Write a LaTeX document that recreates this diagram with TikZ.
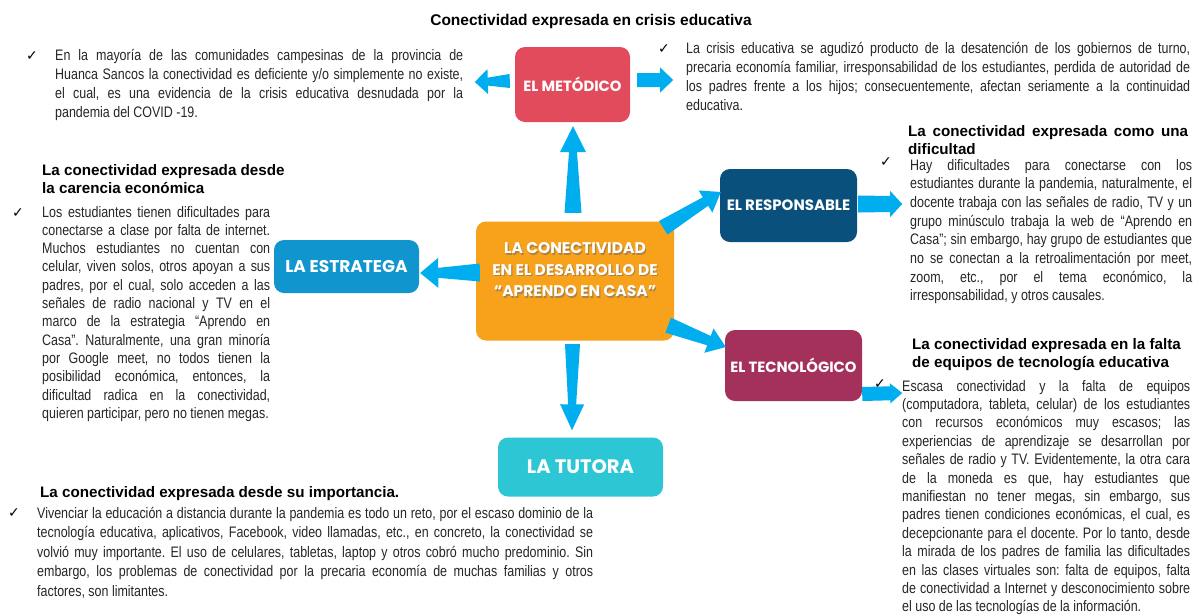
\documentclass[tikz,border=0pt]{standalone}
\usepackage{fontspec}
\setmainfont{Liberation Sans}
\newfontfamily\narrowfont{Liberation Sans}[FakeStretch=0.82]
\newfontfamily\popfont{Poppins}
\newfontfamily\dejafont{DejaVu Sans}
\usetikzlibrary{calc}
\definecolor{arrc}{HTML}{00AEEF}
\definecolor{cmet}{HTML}{E14B5B}
\definecolor{ccen}{HTML}{F8A11B}
\definecolor{cest}{HTML}{1195CF}
\definecolor{cresp}{HTML}{0A507D}
\definecolor{ctec}{HTML}{A4315B}
\definecolor{ctut}{HTML}{2DC6D4}
\definecolor{bodyc}{HTML}{262626}
\frenchspacing
\newcommand\jl[1]{\hbox to \hsize{#1}}
\newcommand\lastl[1]{\hbox{#1}}
\newcommand\bodyfont[1]{\narrowfont\fontsize{15.2}{#1}\selectfont}
\newcommand\hdfont{\bfseries\fontsize{15.2}{18}\selectfont}
\newcommand\tarr[6]{%
  \path (#2) coordinate (tmpB) ($(#2)!#6!(#1)$) coordinate (tmpH);
  \fill[arrc] ($(#1)!#3!90:(#2)$) -- ($(tmpH)!#4!90:(tmpB)$) -- ($(tmpH)!#5!90:(tmpB)$) -- (tmpB)
    -- ($(tmpH)!#5!-90:(tmpB)$) -- ($(tmpH)!#4!-90:(tmpB)$) -- ($(#1)!#3!-90:(#2)$) -- cycle;}
\begin{document}
\begin{tikzpicture}[x=1pt,y=-1pt,
  box/.style={rounded corners=10pt, inner sep=0pt, align=center, text=white},
  lab/.style={font=\popfont\bfseries#1, text=white, align=center, inner sep=0pt},
  chk/.style={font=\dejafont\fontsize{14}{14}\selectfont, inner sep=0pt, text=black},
  txt/.style={anchor=base west, inner sep=0pt, text=bodyc},
  hd/.style={anchor=base west, inner sep=0pt, text=black}]
\useasboundingbox (0,0) rectangle (1195,614);
\fill[white] (0,0) rectangle (1195,614);

% boxes
\node[box, fill=cmet, minimum width=115pt, minimum height=75pt] (met) at (572.5,84.5) {};
\node[lab={\fontsize{14.8}{17}\selectfont}] (metl) at (met.center) {EL METÓDICO};
\node[box, fill=ccen, minimum width=198pt, minimum height=119pt] (cen) at (575,281) {};
\node[lab={\fontsize{15.5}{21.5}\selectfont}, text=black!60, opacity=0.5] (cens) at (576.2,271.2) {LA CONECTIVIDAD\\EN EL DESARROLLO DE\\“APRENDO EN CASA”};
\node[lab={\fontsize{15.5}{21.5}\selectfont}] (cenl) at (575,270) {LA CONECTIVIDAD\\EN EL DESARROLLO DE\\“APRENDO EN CASA”};
\node[box, fill=cest, minimum width=145pt, minimum height=53pt] (est) at (346.5,266.5) {};
\node[lab={\fontsize{17}{19}\selectfont}] (estl) at (est.center) {LA ESTRATEGA};
\node[box, fill=cresp, minimum width=137pt, minimum height=73pt] (resp) at (788.5,205.5) {};
\node[lab={\fontsize{15}{17}\selectfont}] (respl) at (resp.center) {EL RESPONSABLE};
\node[box, fill=ctec, minimum width=137pt, minimum height=71pt] (tec) at (793.5,365.5) {};
\node[lab={\fontsize{14.8}{17}\selectfont}] (tecl) at (tec.center) {EL TECNOLÓGICO};
\node[box, fill=ctut, minimum width=165pt, minimum height=59pt] (tut) at (580.5,467) {};
\node[lab={\fontsize{19.5}{22}\selectfont}] (tutl) at (tut.center) {LA TUTORA};

% arrow end points
\coordinate (a1s) at ($(cen.north)+(-2,-8.5)$);
\coordinate (a1t) at ($(met.south)+(0.5,4)$);
\coordinate (a2s) at ($(met.west)+(-5,-3.5)$);
\coordinate (a2t) at ($(met.west)+(-40,-2.5)$);
\coordinate (a3s) at ($(met.east)+(7,-4.5)$);
\coordinate (a3t) at ($(met.east)+(43,-4.5)$);
\coordinate (a4s) at ($(cen.west)+(4,-8.5)$);
\coordinate (a4t) at ($(est.east)+(1,6.5)$);
\coordinate (a5s) at ($(cen.north east)+(-11,6.5)$);
\coordinate (a5t) at ($(resp.west)+(1,-13.5)$);
\coordinate (a6s) at ($(cen.south east)+(-6,-15.5)$);
\coordinate (a6t) at ($(tec.west)+(1,-18.5)$);
\coordinate (a7s) at ($(cen.south)+(-2.5,3.5)$);
\coordinate (a7t) at ($(tut.north)+(-8.5,-7)$);
\coordinate (a8s) at ($(resp.east)+(1,-1.5)$);
\coordinate (a8t) at ($(resp.east)+(45,-1.5)$);
\coordinate (a9s) at ($(tec.east)+(0,28.5)$);
\coordinate (a9t) at ($(tec.east)+(40,27.5)$);

\tarr{a1s}{a1t}{8.5pt}{4pt}{13pt}{26pt}
\tarr{a2s}{a2t}{7pt}{4pt}{12.5pt}{13pt}
\tarr{a3s}{a3t}{7pt}{7pt}{12.5pt}{13pt}
\tarr{a4s}{a4t}{9pt}{5pt}{15pt}{18pt}
\tarr{a5s}{a5t}{8pt}{5pt}{13pt}{18pt}
\tarr{a6s}{a6t}{8pt}{5pt}{13pt}{18pt}
\tarr{a7s}{a7t}{7.5pt}{4pt}{12pt}{26pt}
\tarr{a8s}{a8t}{8.5pt}{8pt}{13pt}{12pt}
\tarr{a9s}{a9t}{7pt}{7pt}{10pt}{12pt}

% title
\node[anchor=base, inner sep=0pt, font=\bfseries\fontsize{15.5}{18}\selectfont] (title) at (591,25) {Conectividad expresada en crisis educativa};

% top left
\node[chk] (k1) at (32,56) {✓};
\node[txt] (t1) at (55,60) {\parbox[t]{408pt}{\bodyfont{19pt}%
\jl{En la mayoría de las comunidades campesinas de la provincia de}
\jl{Huanca Sancos la conectividad es deficiente y/o simplemente no existe,}
\jl{el cual, es una evidencia de la crisis educativa desnudada por la}
\lastl{pandemia del COVID -19.}}};

% top right
\node[chk] (k2) at (664,49) {✓};
\node[txt] (t2) at (686,53) {\parbox[t]{504pt}{\bodyfont{19pt}%
\jl{La crisis educativa se agudizó producto de la desatención de los gobiernos de turno,}
\jl{precaria economía familiar, irresponsabilidad de los estudiantes, perdida de autoridad de}
\jl{los padres frente a los hijos; consecuentemente, afectan seriamente a la continuidad}
\lastl{educativa.}}};

% left middle
\node[hd] (h3) at (42,175) {\parbox[t]{250pt}{\hdfont
\lastl{La conectividad expresada desde}
\lastl{la carencia económica}}};
\node[chk] (k3) at (18,213) {✓};
\node[txt] (t3) at (42,217) {\parbox[t]{228pt}{\bodyfont{18.3pt}%
\jl{Los estudiantes tienen dificultades para}
\jl{conectarse a clase por falta de internet.}
\jl{Muchos estudiantes no cuentan con}
\jl{celular, viven solos, otros apoyan a sus}
\jl{padres, por el cual, solo acceden a las}
\jl{señales de radio nacional y TV en el}
\jl{marco de la estrategia “Aprendo en}
\jl{Casa”. Naturalmente, una gran minoría}
\jl{por Google meet, no todos tienen la}
\jl{posibilidad económica, entonces, la}
\jl{dificultad radica en la conectividad,}
\lastl{quieren participar, pero no tienen megas.}}};

% right responsable
\node[hd] (h4) at (908,136) {\parbox[t]{280pt}{\hdfont
\jl{La conectividad expresada como una}
\lastl{dificultad}}};
\node[chk] (k4) at (886,162) {✓};
\node[txt] (t4) at (910,170) {\parbox[t]{282pt}{\bodyfont{18.7pt}%
\jl{Hay dificultades para conectarse con los}
\jl{estudiantes durante la pandemia, naturalmente, el}
\jl{docente trabaja con las señales de radio, TV y un}
\jl{grupo minúsculo trabaja la web de “Aprendo en}
\jl{Casa”; sin embargo, hay grupo de estudiantes que}
\jl{no se conectan a la retroalimentación por meet,}
\jl{zoom, etc., por el tema económico, la}
\lastl{irresponsabilidad, y otros causales.}}};

% right tecnologico
\node[hd] (h5) at (912,349) {\parbox[t]{280pt}{\hdfont
\lastl{La conectividad expresada en la falta}
\lastl{de equipos de tecnología educativa}}};
\node[chk] (k5) at (880,384) {✓};
\node[txt] (t5) at (902,391) {\parbox[t]{288pt}{\bodyfont{18.4pt}%
\jl{Escasa conectividad y la falta de equipos}
\jl{(computadora, tableta, celular) de los estudiantes}
\jl{con recursos económicos muy escasos; las}
\jl{experiencias de aprendizaje se desarrollan por}
\jl{señales de radio y TV. Evidentemente, la otra cara}
\jl{de la moneda es que, hay estudiantes que}
\jl{manifiestan no tener megas, sin embargo, sus}
\jl{padres tienen condiciones económicas, el cual, es}
\jl{decepcionante para el docente. Por lo tanto, desde}
\jl{la mirada de los padres de familia las dificultades}
\jl{en las clases virtuales son: falta de equipos, falta}
\jl{de conectividad a Internet y desconocimiento sobre}
\lastl{el uso de las tecnologías de la información.}}};

% bottom
\node[hd] (h6) at (40,497) {\parbox[t]{400pt}{\hdfont
\lastl{La conectividad expresada desde su importancia.}}};
\node[chk] (k6) at (14,513) {✓};
\node[txt] (t6) at (37,518) {\parbox[t]{556pt}{\bodyfont{19.5pt}%
\jl{Vivenciar la educación a distancia durante la pandemia es todo un reto, por el escaso dominio de la}
\jl{tecnología educativa, aplicativos, Facebook, video llamadas, etc., en concreto, la conectividad se}
\jl{volvió muy importante. El uso de celulares, tabletas, laptop y otros cobró mucho predominio. Sin}
\jl{embargo, los problemas de conectividad por la precaria economía de muchas familias y otros}
\lastl{factores, son limitantes.}}};
\end{tikzpicture}
\end{document}
